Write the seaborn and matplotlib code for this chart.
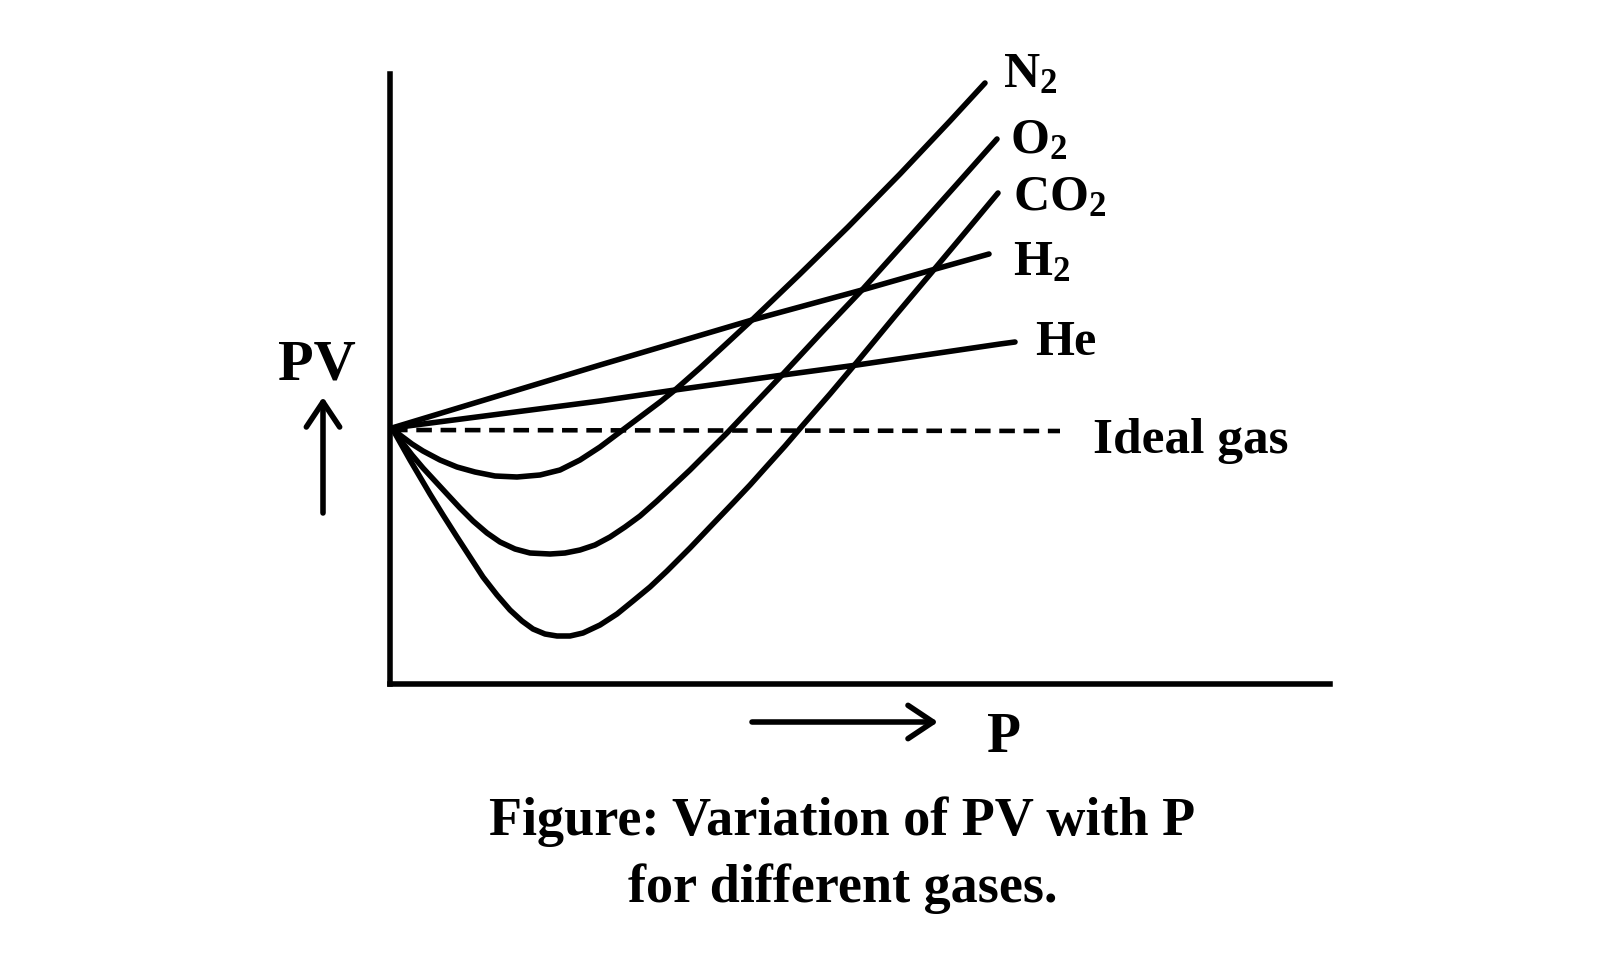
import numpy as np
import pandas as pd
import seaborn as sns
import matplotlib.pyplot as plt

# curve data (P, PV), arbitrary units
n2_p = [0.02, 0.10, 0.22, 0.33, 0.50, 0.67, 0.85, 1.05, 1.27, 1.50, 1.70, 1.90, 2.10, 2.30, 2.50,
        2.70, 2.85, 3.10, 3.35, 3.62, 4.10, 4.58, 5.10, 5.60, 5.95]
n2_pv = [2.56, 2.49, 2.40, 2.33, 2.24, 2.17, 2.12, 2.08, 2.07, 2.09, 2.14, 2.24, 2.37, 2.52, 2.67,
         2.82, 2.94, 3.16, 3.39, 3.64, 4.10, 4.57, 5.10, 5.63, 6.01]

o2_p = [0.02, 0.12, 0.22, 0.33, 0.45, 0.57, 0.70, 0.83, 0.97, 1.10, 1.25, 1.40, 1.60, 1.75, 1.90,
        2.05, 2.20, 2.35, 2.50, 2.67, 2.83, 3.00, 3.18, 3.37, 3.55, 3.93, 4.32, 4.72, 5.25, 5.67, 6.07]
o2_pv = [2.56, 2.42, 2.29, 2.16, 2.03, 1.90, 1.76, 1.63, 1.51, 1.42, 1.35, 1.31, 1.30, 1.31, 1.34,
         1.39, 1.47, 1.57, 1.68, 1.83, 1.98, 2.14, 2.32, 2.51, 2.70, 3.10, 3.52, 3.94, 4.53, 5.00, 5.45]

co2_p = [0.02, 0.11, 0.20, 0.30, 0.40, 0.53, 0.67, 0.80, 0.93, 1.07, 1.20, 1.32, 1.43, 1.55, 1.67,
         1.80, 1.93, 2.10, 2.27, 2.43, 2.60, 2.77, 3.00, 3.20, 3.43, 3.60, 3.77, 3.95, 4.13, 4.40,
         4.67, 5.05, 5.42, 5.78, 6.08]
co2_pv = [2.56, 2.40, 2.24, 2.07, 1.90, 1.69, 1.47, 1.27, 1.07, 0.89, 0.74, 0.63, 0.55, 0.50, 0.48,
          0.48, 0.51, 0.59, 0.70, 0.83, 0.97, 1.13, 1.36, 1.57, 1.81, 1.99, 2.18, 2.38, 2.59, 2.90,
          3.22, 3.68, 4.12, 4.55, 4.91]

h2_p = [0.02, 2.10, 3.62, 4.72, 5.42, 5.99]
h2_pv = [2.56, 3.19, 3.64, 3.94, 4.14, 4.30]

he_p = [0.02, 2.10, 2.85, 3.93, 4.67, 6.10, 6.25]
he_pv = [2.56, 2.83, 2.94, 3.09, 3.19, 3.40, 3.42]

ideal_p = [0.02, 6.70]
ideal_pv = [2.54, 2.53]

gases = ["N$_2$", "O$_2$", "CO$_2$", "H$_2$", "He"]
curves = [(n2_p, n2_pv), (o2_p, o2_pv), (co2_p, co2_pv), (h2_p, h2_pv), (he_p, he_pv)]
# label anchor (left, baseline) per gas
label_x = [6.13, 6.20, 6.23, 6.23, 6.45]
label_y = [5.97, 5.31, 4.74, 4.09, 3.29]

sns.set_theme(style="white")
plt.rcParams['font.family'] = ['Liberation Serif', 'DejaVu Serif']
plt.rcParams['font.weight'] = 'bold'
plt.rcParams['text.color'] = 'black'
plt.rcParams['mathtext.fontset'] = 'custom'
plt.rcParams['mathtext.rm'] = 'Liberation Serif:bold'
plt.rcParams['mathtext.it'] = 'Liberation Serif:bold'
plt.rcParams['mathtext.bf'] = 'Liberation Serif:bold'
plt.rcParams['mathtext.default'] = 'rm'

fig = plt.figure(figsize=(16.13, 9.75), dpi=100)
fig.patch.set_facecolor('white')
ax = fig.add_axes([390 / 1613, 1 - 684 / 975, 940 / 1613, 610 / 975])
ax.set_xlim(0, 9.4)
ax.set_ylim(0, 6.1)

# gas curves
for name, (p, pv) in zip(gases, curves):
    df = pd.DataFrame({"P": p, "PV": pv})
    sns.lineplot(data=df, x="P", y="PV", ax=ax, color="black", lw=4.0,
                 sort=False, solid_capstyle="round", solid_joinstyle="round", clip_on=False)

# ideal gas (dashed)
df_ideal = pd.DataFrame({"P": ideal_p, "PV": ideal_pv})
sns.lineplot(data=df_ideal, x="P", y="PV", ax=ax, color="black", lw=3.3, clip_on=False)
ax.lines[-1].set_dashes([3.4, 1.9])

# labels
for name, lx, ly in zip(gases, label_x, label_y):
    ax.text(lx, ly, name, fontsize=36, fontweight='bold', ha='left', va='baseline', color='black')
ax.text(7.03, 2.31, "Ideal gas", fontsize=37, fontweight='bold', ha='left', va='baseline', color='black')

# axes look
for s in ['top', 'right']:
    ax.spines[s].set_visible(False)
for s in ['left', 'bottom']:
    ax.spines[s].set_linewidth(4.0)
    ax.spines[s].set_color('black')
    ax.spines[s].set_capstyle('projecting')
ax.set_xticks([])
ax.set_yticks([])
ax.set_xlabel("")
ax.set_ylabel("")
ax.set_facecolor('white')

# axis labels with arrows
ax.text(-1.12, 3.04, "PV", fontsize=42, fontweight='bold', ha='left', va='baseline', color='black')
ax.annotate("", xy=(-0.67, 2.87), xytext=(-0.67, 1.71), annotation_clip=False,
            arrowprops=dict(arrowstyle="->,head_length=0.9,head_width=0.6", lw=4.0,
                            color='black', mutation_scale=20, shrinkA=0, shrinkB=0,
                            capstyle='round', joinstyle='round'))
ax.annotate("", xy=(5.48, -0.38), xytext=(3.62, -0.38), annotation_clip=False,
            arrowprops=dict(arrowstyle="->,head_length=0.9,head_width=0.6", lw=4.0,
                            color='black', mutation_scale=20, shrinkA=0, shrinkB=0,
                            capstyle='round', joinstyle='round'))
ax.text(5.97, -0.68, "P", fontsize=40, fontweight='bold', ha='left', va='baseline', color='black')

# caption
fig.text(842 / 1613, 1 - 835 / 975, "Figure: Variation of PV with P", fontsize=39,
         fontweight='bold', ha='center', va='baseline', color='black')
fig.text(843 / 1613, 1 - 902 / 975, "for different gases.", fontsize=39,
         fontweight='bold', ha='center', va='baseline', color='black')

fig.savefig("out.png", dpi=100, facecolor='white')
